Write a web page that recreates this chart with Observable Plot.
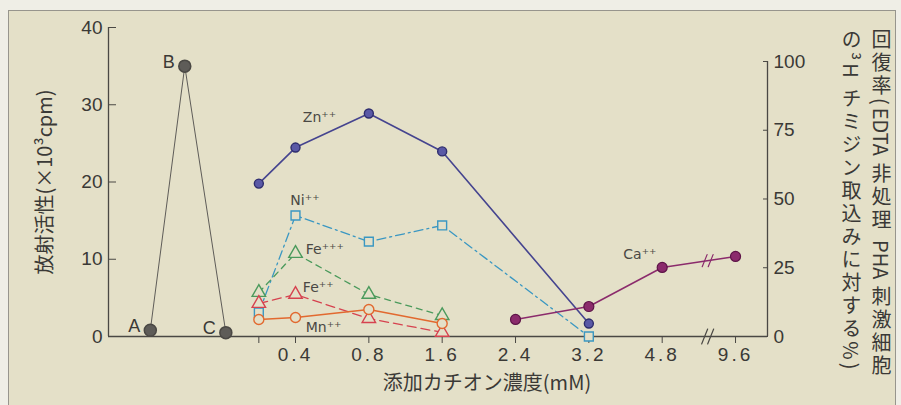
<!DOCTYPE html>
<html><head><meta charset="utf-8">
<script src="https://cdn.jsdelivr.net/npm/d3@7"></script>
<script src="https://cdn.jsdelivr.net/npm/@observablehq/plot@0.6"></script>
<style>
body{margin:0;background:#efeee6;}
#wrap{position:relative;width:901px;height:405px;overflow:hidden;background:#efeee6;}
#panel{position:absolute;left:8px;top:10px;width:886px;height:400px;background:#e4e0c8;border:1px solid #97958d;}
#chart{position:absolute;left:0;top:0;}
#rlabel{position:absolute;left:836px;top:29px;height:372px;writing-mode:vertical-rl;font-family:"Noto Sans CJK JP",sans-serif;font-size:20px;letter-spacing:3px;line-height:30px;color:#3a3936;white-space:nowrap;}
#rlabel .lat{letter-spacing:0;}
svg g[aria-label="x-axis tick label"] text{letter-spacing:3px;}
</style></head><body>
<div id="wrap"><div id="panel"></div><div id="chart"></div>
<div id="rlabel">回復率(<span class="lat">EDTA</span> 非処理 <span class="lat">PHA</span> 刺激細胞<br>の³H チミジン取込みに対する%)</div></div>
<script>
// x positions are column indices; tick labels give concentration (mM)
const xTickPos = [0.5, 1, 2, 3, 4, 5, 6, 7];
const xTickLabels = ["", "0.4", "0.8", "1.6", "2.4", "3.2", "4.8", "9.6"];
const leftTicks = [0, 10, 20, 30, 40];
const rightTicks = [0, 25, 50, 75, 100];
const breakX = 6.62;

// Radioactivity (x10^3 cpm), left axis
const abcNames = ["A", "B", "C"];
const abcX = [-0.98, -0.51, 0.05];
const abcCpm = [0.8, 35.0, 0.5];

// Recovery (%), right axis
const znX = [0.5, 1, 2, 3, 5];
const znPct = [55.6, 68.7, 81.1, 67.3, 4.7];
const niX = [0.5, 1, 2, 3, 5];
const niPct = [8.7, 44.0, 34.5, 40.4, 0];
const fe3X = [0.5, 1, 2, 3];
const fe3Pct = [16.0, 30.2, 15.3, 7.6];
const fe2X = [0.5, 1, 2, 3];
const fe2Pct = [12.0, 15.3, 6.5, 1.5];
const mnX = [0.5, 1, 2, 3];
const mnPct = [6.2, 6.9, 9.8, 4.7];
const caX = [4, 5, 6, 7];
const caPct = [6.2, 10.9, 25.1, 29.1];

const seriesLabels = ["Zn⁺⁺", "Ni⁺⁺", "Fe⁺⁺⁺", "Fe⁺⁺", "Mn⁺⁺", "Ca⁺⁺"];
const seriesLabelX = [1.1, 0.93, 1.14, 1.1, 1.14, 5.47];
const seriesLabelPct = [79.6, 49.5, 31.6, 17.8, 3.3, 29.8];

const yLabel = "放射活性(×10³cpm)";
const xLabel = "添加カチオン濃度(mM)";

// right axis: 100% corresponds to 35.6 on the left scale
const k = 35.6 / 100;
const xDomain = [-1.55, 7.436];
const bg = "#e4e0c8";
const ink = "#3a3936";
const axisInk = "#4a4844";

const rows = (xs, ys) => xs.map((x, i) => ({x, v: ys[i] * k}));
const abc = abcX.map((x, i) => ({x, v: abcCpm[i], name: abcNames[i]}));
const zn = rows(znX, znPct), ni = rows(niX, niPct), fe3 = rows(fe3X, fe3Pct),
      fe2 = rows(fe2X, fe2Pct), mn = rows(mnX, mnPct), ca = rows(caX, caPct);
const labs = seriesLabels.map((t, i) => ({t, x: seriesLabelX[i], v: seriesLabelPct[i] * k}));
const caBreak = (caPct[2] + (caPct[3] - caPct[2]) * (breakX - caX[2]) / (caX[3] - caX[2])) * k;
const tickMap = new Map(xTickPos.map((p, i) => [p, xTickLabels[i]]));
const slash = {draw(ctx, l) { ctx.moveTo(0, 0); ctx.lineTo(0, -l); }};

const C = {zn: "#45448f", ni: "#3a97c2", fe3: "#4b9a5c", fe2: "#d6424f", mn: "#e2692f", ca: "#8b2b6c", abc: "#5e5c58"};

const breakMarks = (y, len, stroke) => [-3, 3].map(dx =>
  Plot.vector([y], {x: breakX, y: d => d, dx, length: len, rotate: 22, anchor: "middle", shape: slash, stroke, strokeWidth: 1.2}));

const chart = Plot.plot({
  width: 901, height: 405,
  marginLeft: 108, marginRight: 134, marginTop: 27, marginBottom: 69,
  style: {background: "transparent", fontFamily: "'Liberation Sans', Arial, sans-serif", fontSize: "19px", color: ink, overflow: "visible"},
  x: {domain: xDomain},
  y: {domain: [0, 40]},
  marks: [
    Plot.ruleY([0], {stroke: axisInk, strokeWidth: 1.3}),
    Plot.ruleX([xDomain[0]], {y1: 0, y2: 40, stroke: axisInk, strokeWidth: 1.3}),
    Plot.ruleX([xDomain[1]], {y1: 0, y2: 100 * k, stroke: axisInk, strokeWidth: 1.3}),
    Plot.axisY({ticks: leftTicks, label: null, tickSize: -8, tickPadding: 14, fontSize: 19, stroke: axisInk}),
    Plot.axisY({ticks: rightTicks.map(d => d * k), label: null, anchor: "right", tickSize: -5, tickPadding: 11, fontSize: 19, tickFormat: d => String(Math.round(d / k)), stroke: axisInk}),
    Plot.axisX({ticks: xTickPos, label: null, tickSize: 7, tickPadding: 4, fontSize: 19, tickFormat: d => tickMap.get(d), stroke: axisInk}),
    Plot.text([yLabel], {text: d => d, frameAnchor: "left", textAnchor: "middle", lineAnchor: "middle", dx: -63, rotate: -90, fontSize: 20, fontFamily: "'Noto Sans CJK JP'", fill: ink}),
    Plot.text([xLabel], {text: d => d, frameAnchor: "bottom", textAnchor: "middle", lineAnchor: "middle", dx: 49, dy: 47, fontSize: 20, fontFamily: "'Noto Sans CJK JP'", fill: ink}),
    ...breakMarks(0, 16, axisInk),
    // lines
    Plot.line(abc, {x: "x", y: "v", stroke: C.abc, strokeWidth: 1}),
    Plot.line(zn, {x: "x", y: "v", stroke: C.zn, strokeWidth: 1.6}),
    Plot.line(ni, {x: "x", y: "v", stroke: C.ni, strokeWidth: 1.3, strokeDasharray: "9,4,2,4"}),
    Plot.line(fe3, {x: "x", y: "v", stroke: C.fe3, strokeWidth: 1.3, strokeDasharray: "6,5"}),
    Plot.line(fe2, {x: "x", y: "v", stroke: C.fe2, strokeWidth: 1.3, strokeDasharray: "9,5"}),
    Plot.line(mn, {x: "x", y: "v", stroke: C.mn, strokeWidth: 1.5}),
    Plot.line(ca, {x: "x", y: "v", stroke: C.ca, strokeWidth: 1.5}),
    // markers
    Plot.dot(abc, {x: "x", y: "v", r: 6, fill: C.abc, stroke: axisInk}),
    Plot.dot(zn, {x: "x", y: "v", r: 4.5, fill: "#5a59a6", stroke: "#2e2d6e", strokeWidth: 1.4}),
    Plot.dot(ni, {x: "x", y: "v", symbol: "square", r: 5, fill: bg, stroke: C.ni, strokeWidth: 1.4}),
    Plot.dot(fe3, {x: "x", y: "v", symbol: "triangle", r: 5, fill: bg, stroke: C.fe3, strokeWidth: 1.4}),
    Plot.dot(fe2, {x: "x", y: "v", symbol: "triangle", r: 5, fill: bg, stroke: C.fe2, strokeWidth: 1.4}),
    Plot.dot(mn, {x: "x", y: "v", r: 5, fill: bg, stroke: C.mn, strokeWidth: 1.4}),
    Plot.dot(ca, {x: "x", y: "v", r: 5, fill: C.ca, stroke: "#5e1448", strokeWidth: 1.2}),
    ...breakMarks(caBreak, 13, C.ca),
    // labels
    Plot.text(abc, {x: "x", y: "v", text: "name", textAnchor: "end", dx: -10, dy: -4, fontSize: 18, fill: ink}),
    Plot.text(labs, {x: "x", y: "v", text: "t", textAnchor: "start", fontSize: 14, fill: axisInk, fontFamily: "'DejaVu Sans', sans-serif"})
  ]
});
document.getElementById("chart").appendChild(chart);
</script>
</body></html>
